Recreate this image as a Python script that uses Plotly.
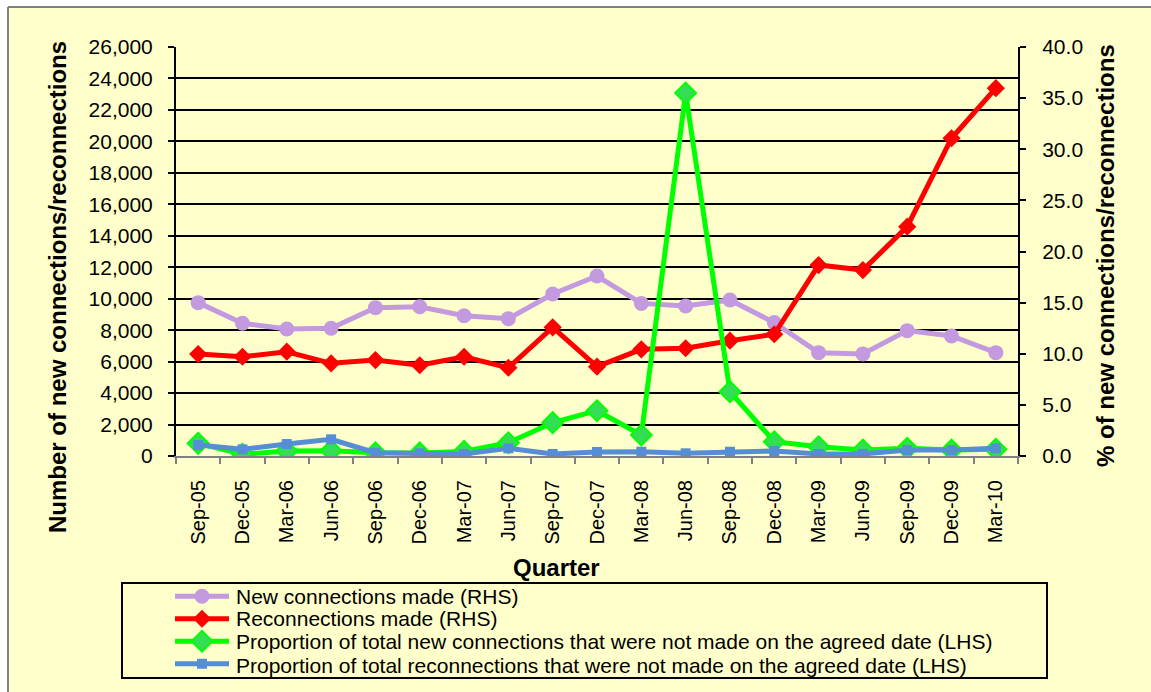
"""Connections / reconnections chart (plotly)."""
import plotly.graph_objects as go

quarters = ['Sep-05', 'Dec-05', 'Mar-06', 'Jun-06', 'Sep-06', 'Dec-06', 'Mar-07',
            'Jun-07', 'Sep-07', 'Dec-07', 'Mar-08', 'Jun-08', 'Sep-08', 'Dec-08',
            'Mar-09', 'Jun-09', 'Sep-09', 'Dec-09', 'Mar-10']

new_connections = [9750, 8440, 8070, 8120, 9430, 9490, 8920, 8730, 10300, 11440,
                   9700, 9540, 9920, 8480, 6570, 6490, 7970, 7630, 6570]
reconnections = [6480, 6310, 6630, 5890, 6100, 5770, 6310, 5610, 8180, 5680,
                 6780, 6850, 7330, 7740, 12140, 11820, 14580, 20200, 23380]
pct_new_late = [1.24, 0.17, 0.49, 0.52, 0.32, 0.30, 0.45, 1.30, 3.26, 4.43,
                2.05, 35.5, 6.29, 1.40, 0.91, 0.59, 0.75, 0.59, 0.65]
pct_recon_late = [1.07, 0.65, 1.17, 1.63, 0.32, 0.26, 0.20, 0.75, 0.20, 0.39,
                  0.42, 0.26, 0.42, 0.49, 0.20, 0.20, 0.59, 0.59, 0.75]

legend_labels = ['New connections made (RHS)',
                 'Reconnections made (RHS)',
                 'Proportion of total new connections that were not made on the agreed date (LHS)',
                 'Proportion of total reconnections that were not made on the agreed date (LHS)']

BG = '#FFFFCC'
FONT = 'Arial, Liberation Sans, sans-serif'

# figure size and plot area in pixels
W, H = 1151, 692
L, R, T, B = 176, 1018, 47, 456
PW, PH = R - L, B - T


def px(x):
    return (x - L) / PW


def py(y):
    return (B - y) / PH


fig = go.Figure()

fig.add_trace(go.Scatter(
    x=quarters, y=new_connections, name=' ',
    mode='lines+markers', line=dict(color='#C399DF', width=5),
    marker=dict(symbol='circle', size=15, color='#C399DF')))

fig.add_trace(go.Scatter(
    x=quarters, y=reconnections, name=' ',
    mode='lines+markers', line=dict(color='#FF0000', width=5),
    marker=dict(symbol='diamond', size=14, color='#FF0000')))

fig.add_trace(go.Scatter(
    x=quarters, y=pct_new_late, yaxis='y2', name=' ',
    mode='lines+markers', line=dict(color='#00FF00', width=5),
    marker=dict(symbol='diamond', size=16, color='#33DD55',
                line=dict(color='#00FF00', width=2))))

fig.add_trace(go.Scatter(
    x=quarters, y=pct_recon_late, yaxis='y2', name=' ',
    mode='lines+markers', line=dict(color='#558ED5', width=5),
    marker=dict(symbol='square', size=10, color='#558ED5')))

fig.update_layout(
    width=W, height=H,
    margin=dict(l=L, r=W - R, t=T, b=H - B, autoexpand=False),
    paper_bgcolor='white', plot_bgcolor=BG,
    font=dict(family=FONT, size=20, color='black'),
    showlegend=True,
    xaxis=dict(
        type='category', range=[-0.5, len(quarters) - 0.5],
        tickson='boundaries', ticks='outside', ticklen=6,
        tickcolor='#808080', tickwidth=2, tickangle=-90,
        showline=True, linecolor='#808080', linewidth=2,
        showgrid=False, ticklabelstandoff=14,
        tickfont=dict(size=20), automargin=False,
    ),
    yaxis=dict(
        range=[0, 26000], dtick=2000, tickformat=',d',
        showgrid=True, gridcolor='black', gridwidth=1.5,
        showline=True, linecolor='black', linewidth=2,
        ticks='outside', ticklen=6, tickcolor='black', tickwidth=2,
        ticklabelstandoff=11, zeroline=False, automargin=False,
        tickfont=dict(size=21),
    ),
    yaxis2=dict(
        range=[0, 40], dtick=5, tickformat='.1f', overlaying='y', side='right',
        showgrid=False, showline=True, linecolor='black', linewidth=2,
        ticks='outside', ticklen=6, tickcolor='black', tickwidth=2,
        ticklabelstandoff=12, zeroline=False,
        automargin=False, tickfont=dict(size=21),
    ),
    legend=dict(
        x=px(170), y=py(580), xanchor='left', yanchor='top',
        bgcolor='rgba(0,0,0,0)', borderwidth=0,
        font=dict(family=FONT, size=15), itemwidth=54, tracegroupgap=0,
    ),
)

# chart area: yellow fill, grey frame on top/left, white strip outside
fig.add_shape(type='rect', xref='paper', yref='paper',
              x0=px(8), x1=px(W + 20), y0=py(7), y1=py(H + 20),
              line=dict(width=0), fillcolor=BG, layer='below')
fig.add_shape(type='line', xref='paper', yref='paper',
              x0=px(8), x1=px(8), y0=py(7), y1=py(H + 20),
              line=dict(color='#808080', width=2))
fig.add_shape(type='line', xref='paper', yref='paper',
              x0=px(8), x1=px(W + 20), y0=py(7), y1=py(7),
              line=dict(color='#808080', width=2))
# legend box
fig.add_shape(type='rect', xref='paper', yref='paper',
              x0=px(122), x1=px(1047), y0=py(583), y1=py(678),
              line=dict(color='black', width=2), fillcolor=BG, layer='below')

# legend labels
for i, lab in enumerate(legend_labels):
    fig.add_annotation(text=lab, xref='paper', yref='paper',
                       x=px(234), y=py([596, 618, 641, 665][i]),
                       showarrow=False, font=dict(size=21),
                       xanchor='left', yanchor='middle')

fig.add_annotation(text='<b>Number of new connections/reconnections</b>',
                   xref='paper', yref='paper', x=px(57), y=py(287),
                   textangle=-90, showarrow=False, font=dict(size=24),
                   xanchor='center', yanchor='middle')
fig.add_annotation(text='<b>% of new connections/reconnections</b>',
                   xref='paper', yref='paper', x=px(1105), y=py(256),
                   textangle=-90, showarrow=False, font=dict(size=24),
                   xanchor='center', yanchor='middle')
fig.add_annotation(text='<b>Quarter</b>',
                   xref='paper', yref='paper', x=px(556), y=py(567),
                   showarrow=False, font=dict(size=24),
                   xanchor='center', yanchor='middle')

# drop the default page margin so the figure fills the window
fig.write_html('out.html', config={'displayModeBar': False},
               post_script="document.body.style.margin='0';"
                           "document.body.style.overflow='hidden';")
